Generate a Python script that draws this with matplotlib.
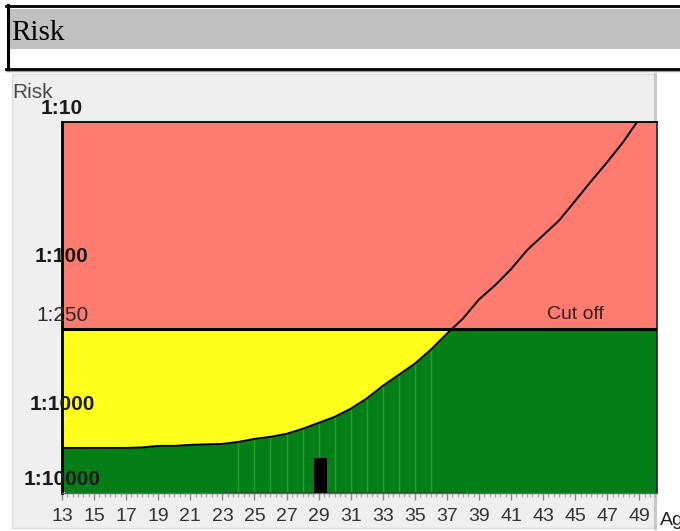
import numpy as np
import matplotlib
matplotlib.use('Agg')
import matplotlib.pyplot as plt
from matplotlib.patches import Rectangle
from matplotlib.lines import Line2D
from matplotlib.ticker import MultipleLocator, FixedLocator, NullFormatter

plt.rcParams['font.family'] = ['Liberation Sans', 'DejaVu Sans']

# ---------------- data ----------------
ages = list(range(13, 50))
risk_denominator = [2470, 2470, 2470, 2470, 2470, 2430, 2320, 2320, 2245, 2210,
                    2180, 2050, 1865, 1750, 1595, 1365, 1135, 970, 855, 730,
                    600, 505, 425, 342, 267, 211, 157, 126, 98, 73,
                    58, 46, 34, 25, 18.6, 13.6, 9.5]
cutoff = 250
stripe_ages = list(range(24, 37))
patient_age = 29.1
patient_risk = 3400
ytick_values = [10, 100, 250, 1000, 10000]
ytick_labels = ['1:10', '1:100', '1:250', '1:1000', '1:10000']
ytick_bold = [True, True, False, True, True]
xtick_values = list(range(13, 50, 2))

# ---------------- figure ----------------
W, H = 680, 531
fig = plt.figure(figsize=(6.8, 5.31), dpi=100)
fig.patch.set_facecolor('white')

def fx(p):
    return p / W

def fy(p):
    return 1 - p / H

# header box
fig.add_artist(Rectangle((fx(9), fy(49)), fx(680) - fx(9), fy(9) - fy(49),
                         transform=fig.transFigure, facecolor='#c0c0c0',
                         edgecolor='none', zorder=-5))
fig.add_artist(Line2D([fx(6), fx(680)], [fy(6), fy(6)], transform=fig.transFigure,
                      color='black', lw=2.0, zorder=-4))
fig.add_artist(Line2D([fx(7.5), fx(7.5)], [fy(5), fy(70)], transform=fig.transFigure,
                      color='black', lw=2.2, zorder=-4))
fig.add_artist(Line2D([fx(6), fx(680)], [fy(71), fy(71)], transform=fig.transFigure,
                      color='#999999', lw=1.0, zorder=-4))
fig.add_artist(Line2D([fx(6), fx(680)], [fy(69), fy(69)], transform=fig.transFigure,
                      color='black', lw=2.0, zorder=-4))
fig.text(fx(11), fy(39.5), 'Risk', family=['Liberation Serif', 'DejaVu Serif'],
         fontsize=21, va='baseline', ha='left', color='black')

# chart panel
fig.add_artist(Rectangle((fx(12), fy(528)), fx(654) - fx(12), fy(74) - fy(528),
                         transform=fig.transFigure, facecolor='#efefef',
                         edgecolor='#dcdcdc', lw=1, zorder=-5))
fig.add_artist(Line2D([fx(654.5), fx(654.5)], [fy(74), fy(528)], transform=fig.transFigure,
                      color='#c8c8c8', lw=2.2, zorder=-4))

ax = fig.add_axes([fx(62), fy(493), fx(657) - fx(62), fy(122) - fy(493)])
ax.set_facecolor('none')


def fwd(d):
    d = np.asarray(d, dtype=float)
    u = np.log10(np.clip(d, 1e-12, None))
    return np.where(u <= 3, u, 3 + (u - 3) * 0.5)


def inv(v):
    v = np.asarray(v, dtype=float)
    u = np.where(v <= 3, v, 3 + (v - 3) * 2)
    return 10 ** u


ax.set_yscale('function', functions=(fwd, inv))
ax.set_ylim(10000, 10)
ax.set_xlim(13, 50.1)

ages_arr = np.array(ages, dtype=float)
risk_arr = np.array(risk_denominator, dtype=float)

# background zones: green below cutoff, yellow between cutoff and curve, red above cutoff
ax.axhspan(cutoff, 10000, color='#047f18', zorder=0)
stripe_tops = [risk_denominator[ages.index(a)] for a in stripe_ages]
ax.vlines(stripe_ages, 10000, stripe_tops, color='#22a02e', lw=1.0, zorder=0.5)
ax.fill_between(ages_arr, cutoff, risk_arr, color='#ffff1c', lw=0, zorder=1)
ax.axhspan(10, cutoff, color='#fe7b70', zorder=2)

ax.plot([23.1, 38], [10000, 10000], color='#14501a', lw=2.2, zorder=2.1)

# risk curve
ax.plot(ages_arr, risk_arr, color='black', lw=1.4, zorder=4)
ax.axhline(cutoff, color='black', lw=2.2, zorder=4.5)

# patient marker
ax.bar(patient_age, patient_risk - 10000, bottom=10000, width=0.8,
       color='black', zorder=5)

ax.annotate('Cut off', xy=(45, cutoff), xycoords='data', xytext=(0, 7.5),
            textcoords='offset points', ha='center', va='baseline',
            fontsize=14, color='#3a1f1f', zorder=6)

# spines
for s in ['left', 'top']:
    ax.spines[s].set_color('black')
ax.spines['left'].set_linewidth(2.0)
ax.spines['top'].set_linewidth(1.3)
ax.spines['right'].set_color('#222222')
ax.spines['right'].set_linewidth(1.2)
ax.spines['bottom'].set_color('#666666')
ax.spines['bottom'].set_linewidth(1.0)

# y ticks and labels
ax.yaxis.set_major_locator(FixedLocator(ytick_values))
ax.yaxis.set_minor_locator(FixedLocator([]))
ax.yaxis.set_major_formatter(NullFormatter())
ax.yaxis.set_minor_formatter(NullFormatter())
ax.tick_params(axis='y', which='major', direction='in', length=2.5, width=1.5,
               color='white')
for val, lab, bold in zip(ytick_values, ytick_labels, ytick_bold):
    ax.annotate(lab, xy=(0, val), xycoords=('axes fraction', 'data'),
                xytext=(0, 6), textcoords='offset points', ha='center',
                va='baseline', fontsize=15,
                fontweight='bold' if bold else 'normal',
                color='#1a1a1a' if bold else '#2a2a2a',
                annotation_clip=False, zorder=10)

# x ticks
ax.xaxis.set_major_locator(FixedLocator(xtick_values))
ax.xaxis.set_minor_locator(MultipleLocator(1 / 3))
ax.tick_params(axis='x', which='major', length=5, width=1, color='#888888',
               pad=6, labelsize=14, labelcolor='#333333')
ax.tick_params(axis='x', which='minor', length=3, width=1, color='#aaaaaa')

fig.text(fx(12), fy(98), 'Risk', fontsize=15, color='#4a4a4a',
         va='baseline', ha='left')
fig.text(fx(660), fy(525), 'Age', fontsize=14, color='#222222',
         va='baseline', ha='left')

fig.savefig('out.png', dpi=100, facecolor='white')
